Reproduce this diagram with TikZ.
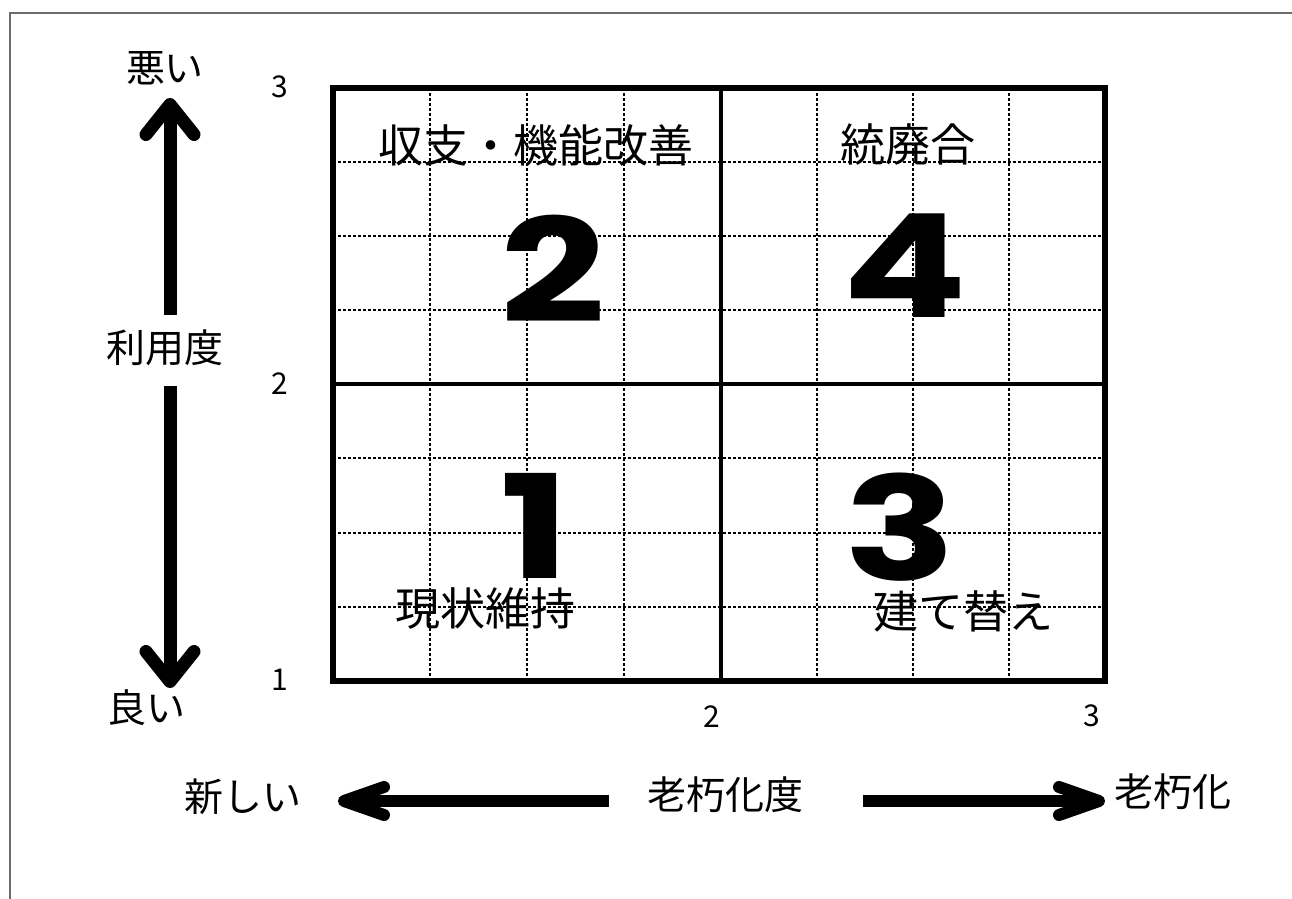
\documentclass[tikz,border=0pt]{standalone}
\usepackage{fontspec}
\newfontfamily\jp{Noto Sans CJK JP}
\newfontfamily\bignum{Poppins}[FakeStretch=1.28]
\usetikzlibrary{arrows.meta}
\tikzset{
  frameline/.style={draw=gray!85!black, line width=0.6pt},
  outerbox/.style={draw=black, line width=3pt},
  midline/.style={draw=black, line width=2pt},
  fineline/.style={draw=black, line width=0.8pt, dash pattern=on 1.5pt off 1pt},
  axislabel/.style={font=\jp\fontsize{19.5}{22}\selectfont, inner sep=0pt},
  regionlabel/.style={font=\jp\fontsize{22.5}{26}\selectfont, inner sep=0pt},
  ticklabel/.style={font=\jp\fontsize{15}{18}\selectfont, inner sep=0pt},
  bigdigit/.style={font=\bignum\bfseries\fontsize{72}{80}\selectfont, inner sep=0pt, text height=51pt, text depth=0pt},
  varrow/.style={line width=6.5pt, -{Straight Barb[length=15pt, width=24pt, round]}},
  harrow/.style={line width=6pt, -{Straight Barb[length=20pt, width=14pt, round]}},
}
\begin{document}
\begin{tikzpicture}[x=0.5pt, y=-0.5pt]
\useasboundingbox (0,0) rectangle (1292,899);
% frame
\draw[frameline] (10,899) -- (10,13) -- (1292,13);
% fine grid
\foreach \x in {430,527,624,817,913,1009} \draw[fineline] (\x,88) -- (\x,681);
\foreach \y in {162,236,310,458,533,607} \draw[fineline] (333,\y) -- (1105,\y);
% main lines
\draw[midline] (721,88) -- (721,681);
\draw[midline] (333,384) -- (1105,384);
\draw[outerbox] (333,88) rectangle (1105,681);
% region labels
\node[regionlabel] (r2) at (536,145) {収支・機能改善};
\node[regionlabel] (r4) at (908,144) {統廃合};
\node[regionlabel] (r1) at (485,609) {現状維持};
\node[regionlabel] (r3) at (963,611) {建て替え};
% big digits
\node[bigdigit] (d2) at (553,271) {2};
\node[bigdigit] (d4) at (905,266) {4};
\node[bigdigit] (d1) at (535,527) {1};
\node[bigdigit] (d3) at (900,529) {3};
% tick labels
\node[ticklabel] (y3) at (280,87) {3};
\node[ticklabel] (y2) at (280,384) {2};
\node[ticklabel] (y1) at (280,680) {1};
\node[ticklabel] (x2) at (712,717) {2};
\node[ticklabel] (x3) at (1092,716) {3};
% axis labels
\node[axislabel] (bad) at (165,68) {悪い};
\node[axislabel] (use) at (165,348) {利用度};
\node[axislabel] (good) at (146,708) {良い};
\node[axislabel] (new) at (243,797) {新しい};
\node[axislabel] (age) at (725,795) {老朽化度};
\node[axislabel] (old) at (1173,792) {老朽化};
% arrows
\coordinate (upS) at (170,315);
\coordinate (upE) at (170,98);
\coordinate (dnS) at (170,386);
\coordinate (dnE) at (170,688);
\coordinate (lfS) at (609,801);
\coordinate (lfE) at (338,801);
\coordinate (rtS) at (863,801);
\coordinate (rtE) at (1105,801);
\draw[varrow] (upS) -- (upE);
\draw[varrow] (dnS) -- (dnE);
\draw[harrow] (lfS) -- (lfE);
\draw[harrow] (rtS) -- (rtE);
\end{tikzpicture}
\end{document}
